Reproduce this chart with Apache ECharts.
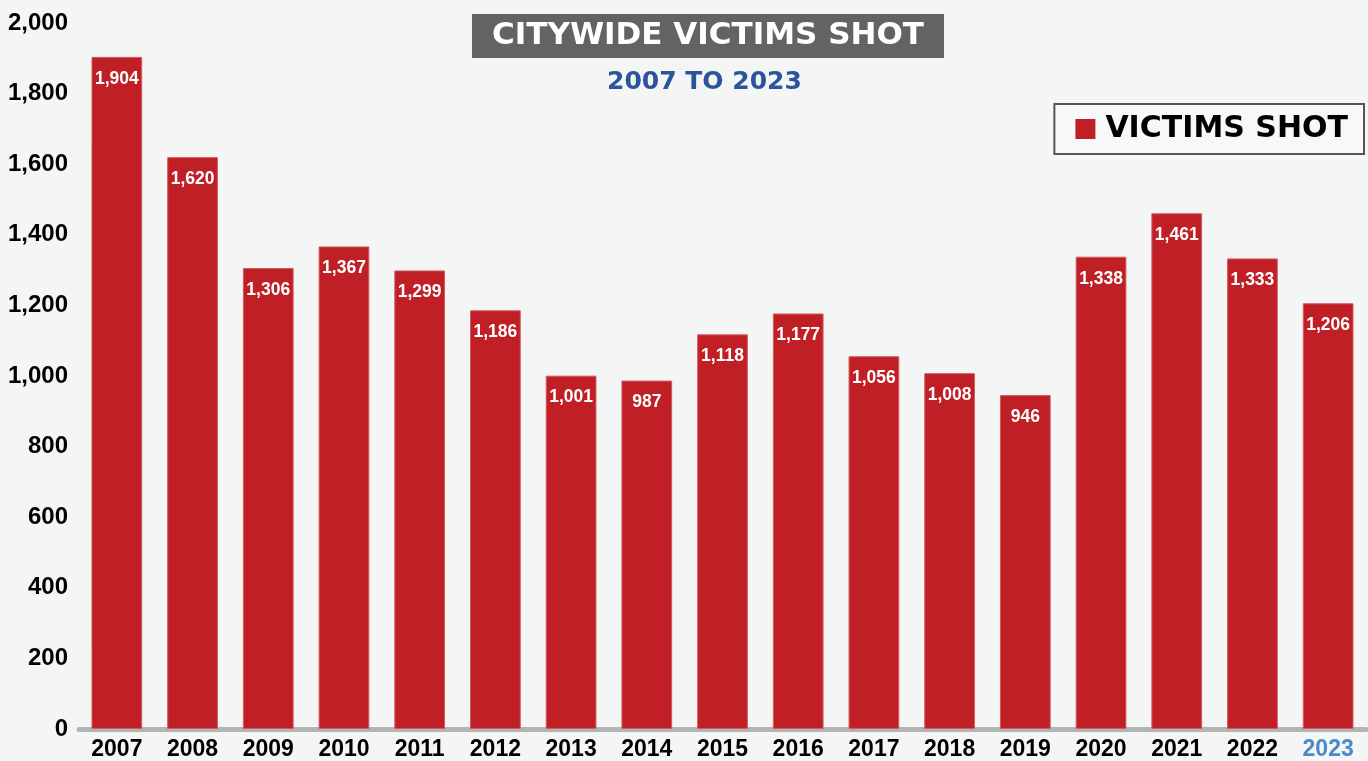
<!DOCTYPE html>
<html>
<head>
<meta charset="utf-8">
<script src="https://cdn.jsdelivr.net/npm/echarts@6/dist/echarts.min.js"></script>
<style>
    html, body { margin: 0; padding: 0; background: #f4f6f5; }
    #chart { width: 1368px; height: 761px; }
</style>
</head>
<body>
<div id="chart"></div>
<script>
var years = ['2007', '2008', '2009', '2010', '2011', '2012', '2013', '2014', '2015',
    '2016', '2017', '2018', '2019', '2020', '2021', '2022', '2023'];
var victimsShot = [1904, 1620, 1306, 1367, 1299, 1186, 1001, 987, 1118,
    1177, 1056, 1008, 946, 1338, 1461, 1333, 1206];
var yTicks = [0, 200, 400, 600, 800, 1000, 1200, 1400, 1600, 1800, 2000];

function fmt(v) {
    return v.toString().replace(/\B(?=(\d{3})+(?!\d))/g, ',');
}

var wideFont = 'DejaVu Sans, Liberation Sans, sans-serif';

var myChart = echarts.init(document.getElementById('chart'));
var option = {
    backgroundColor: '#f4f6f5',
    animation: false,
    textStyle: { fontFamily: 'Liberation Sans, Arial, sans-serif' },
    title: [
        {
            text: 'CITYWIDE VICTIMS SHOT',
            left: 472,
            top: 14,
            padding: [6, 20, 6, 20],
            backgroundColor: '#636363',
            textStyle: { color: '#ffffff', fontFamily: wideFont, fontSize: 31, fontWeight: 'bold', lineHeight: 32 }
        },
        {
            text: '2007 TO 2023',
            left: 602,
            top: 65,
            textStyle: { color: '#2a5599', fontFamily: wideFont, fontSize: 25, fontWeight: 'bold' }
        }
    ],
    legend: {
        right: 4,
        top: 104,
        padding: [10, 16, 10, 21],
        backgroundColor: '#f7f8f8',
        borderColor: '#555555',
        borderWidth: 2,
        itemWidth: 20,
        itemHeight: 20,
        icon: 'rect',
        itemStyle: { borderWidth: 0 },
        textStyle: { color: '#000000', fontFamily: wideFont, fontSize: 30, fontWeight: 'bold', padding: [0, 0, 0, 5] },
        data: ['VICTIMS SHOT']
    },
    grid: { left: 79, right: 2, top: 23, bottom: 31, containLabel: false },
    xAxis: {
        type: 'category',
        data: years,
        axisLine: { lineStyle: { color: '#b4b4b4', width: 5 } },
        axisTick: { show: false },
        axisLabel: {
            margin: 9,
            fontSize: 23,
            fontWeight: 'bold',
            color: function (v) { return v === '2023' ? '#4a8ac8' : '#000000'; }
        }
    },
    yAxis: {
        type: 'value',
        min: yTicks[0],
        max: yTicks[yTicks.length - 1],
        interval: 200,
        splitLine: { show: false },
        axisLine: { show: false },
        axisTick: { show: false },
        axisLabel: {
            margin: 11,
            fontSize: 24,
            fontWeight: 'bold',
            color: '#000000',
            formatter: function (v) { return fmt(v); }
        }
    },
    series: [{
        name: 'VICTIMS SHOT',
        type: 'bar',
        data: victimsShot,
        barCategoryGap: '33%',
        itemStyle: { color: '#c01f26', borderColor: '#d25a5f', borderWidth: 1 },
        label: {
            show: true,
            position: 'insideTop',
            distance: 13,
            color: '#ffffff',
            fontSize: 17.5,
            fontWeight: 'bold',
            formatter: function (p) { return fmt(p.value); }
        }
    }]
};
myChart.setOption(option);
</script>
</body>
</html>
